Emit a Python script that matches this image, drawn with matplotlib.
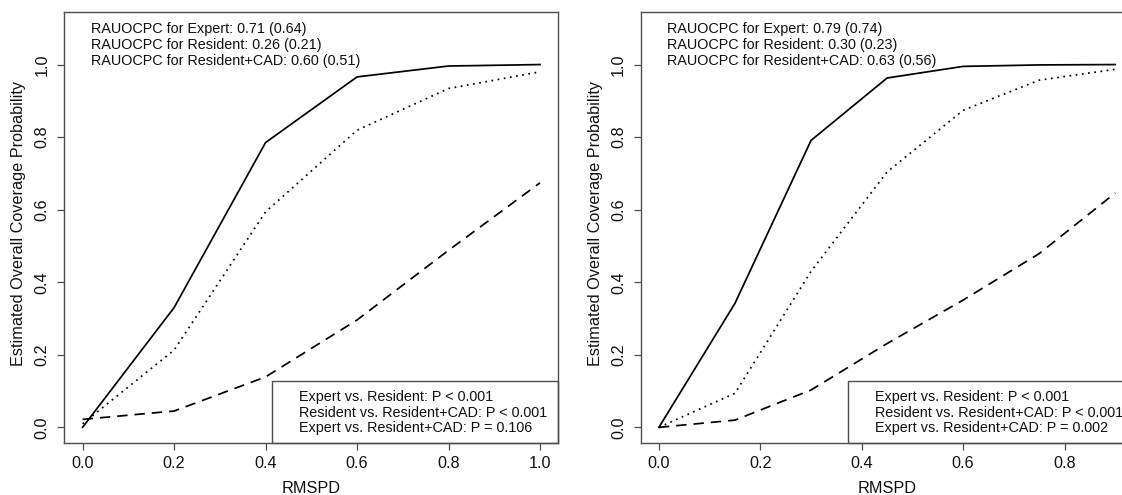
import numpy as np
from matplotlib import pyplot as plt
from matplotlib.patches import Rectangle

plt.rcParams['font.family'] = ['Liberation Sans', 'DejaVu Sans']

# left panel
rmspd_a = [0.0, 0.2, 0.4, 0.6, 0.8, 1.0]
expert_a = [0.0, 0.33, 0.785, 0.966, 0.996, 1.0]
cad_a = [0.01, 0.213, 0.594, 0.819, 0.934, 0.98]
resident_a = [0.022, 0.045, 0.139, 0.296, 0.488, 0.674]
rauocpc_a = ["RAUOCPC for Expert: 0.71 (0.64)",
             "RAUOCPC for Resident: 0.26 (0.21)",
             "RAUOCPC for Resident+CAD: 0.60 (0.51)"]
pvals_a = ["Expert vs. Resident: P < 0.001",
           "Resident vs. Resident+CAD: P < 0.001",
           "Expert vs. Resident+CAD: P = 0.106"]

# right panel
rmspd_b = [0.0, 0.15, 0.3, 0.45, 0.6, 0.75, 0.9]
expert_b = [0.0, 0.342, 0.791, 0.963, 0.995, 0.999, 1.0]
cad_b = [0.0, 0.094, 0.43, 0.704, 0.874, 0.957, 0.987]
resident_b = [0.0, 0.02, 0.103, 0.231, 0.351, 0.479, 0.646]
rauocpc_b = ["RAUOCPC for Expert: 0.79 (0.74)",
             "RAUOCPC for Resident: 0.30 (0.23)",
             "RAUOCPC for Resident+CAD: 0.63 (0.56)"]
pvals_b = ["Expert vs. Resident: P < 0.001",
           "Resident vs. Resident+CAD: P < 0.001",
           "Expert vs. Resident+CAD: P = 0.002"]

yticks = [0.0, 0.2, 0.4, 0.6, 0.8, 1.0]
FRAME = '#4d4d4d'
LW = 1.25
FS = 11.7   # axis text
NS = 10.4   # notes

def panel(ax, x, expert, resident, cad, notes, pvals, xticks):
	ax.plot(x, expert, color='black', lw=LW, linestyle='-')
	ax.plot(x, resident, color='black', lw=LW, linestyle=(0, (6, 4)))
	ax.plot(x, cad, color='black', lw=LW, linestyle=(0, (1, 2.6)))
	xmax = max(x)
	ax.set_xlim(-0.04 * xmax, 1.04 * xmax)
	ax.set_ylim(-0.044, 1.144)
	ax.set_xticks(xticks)
	ax.set_xticklabels(['%.1f' % t for t in xticks])
	ax.set_yticks(yticks)
	ax.set_yticklabels(['%.1f' % t for t in yticks], rotation=90, va='center')
	for s in ax.spines.values():
		s.set_color(FRAME)
		s.set_linewidth(1.0)
	ax.tick_params(axis='both', direction='out', length=4.8, width=0.9, color=FRAME,
		labelsize=FS, labelcolor='#111111')
	ax.tick_params(axis='x', pad=4.0)
	ax.tick_params(axis='y', pad=5.6)
	ax.set_xlabel('RMSPD', fontsize=FS, va='center', color='#111111')
	ax.xaxis.set_label_coords(0.5, -0.1044)
	ax.set_ylabel('Estimated Overall Coverage Probability', fontsize=FS, va='center', color='#111111')
	ax.yaxis.set_label_coords(-0.0917, 0.51)
	for i, t in enumerate(notes):
		ax.text(0.0534, 0.9606 - i * 0.0365, t, transform=ax.transAxes,
			fontsize=NS, va='center', ha='left', color='#111111')
	ax.add_patch(Rectangle((0.421, 0.0), 0.579, 0.1439, transform=ax.transAxes,
		fill=False, edgecolor=FRAME, lw=1.0, clip_on=False))
	for i, t in enumerate(pvals):
		ax.text(0.4745, 0.1081 - i * 0.0367, t, transform=ax.transAxes,
			fontsize=NS, va='center', ha='left', color='#111111')

fig = plt.figure(figsize=(11.22, 4.95), dpi=100)
ax1 = fig.add_axes([0.0573, 0.1044, 0.4403, 0.8707])
ax2 = fig.add_axes([0.5710, 0.1044, 0.4393, 0.8707])

panel(ax1, rmspd_a, expert_a, resident_a, cad_a, rauocpc_a, pvals_a,
	[0.0, 0.2, 0.4, 0.6, 0.8, 1.0])
panel(ax2, rmspd_b, expert_b, resident_b, cad_b, rauocpc_b, pvals_b,
	[0.0, 0.2, 0.4, 0.6, 0.8])

plt.savefig('out.png', dpi=100)
